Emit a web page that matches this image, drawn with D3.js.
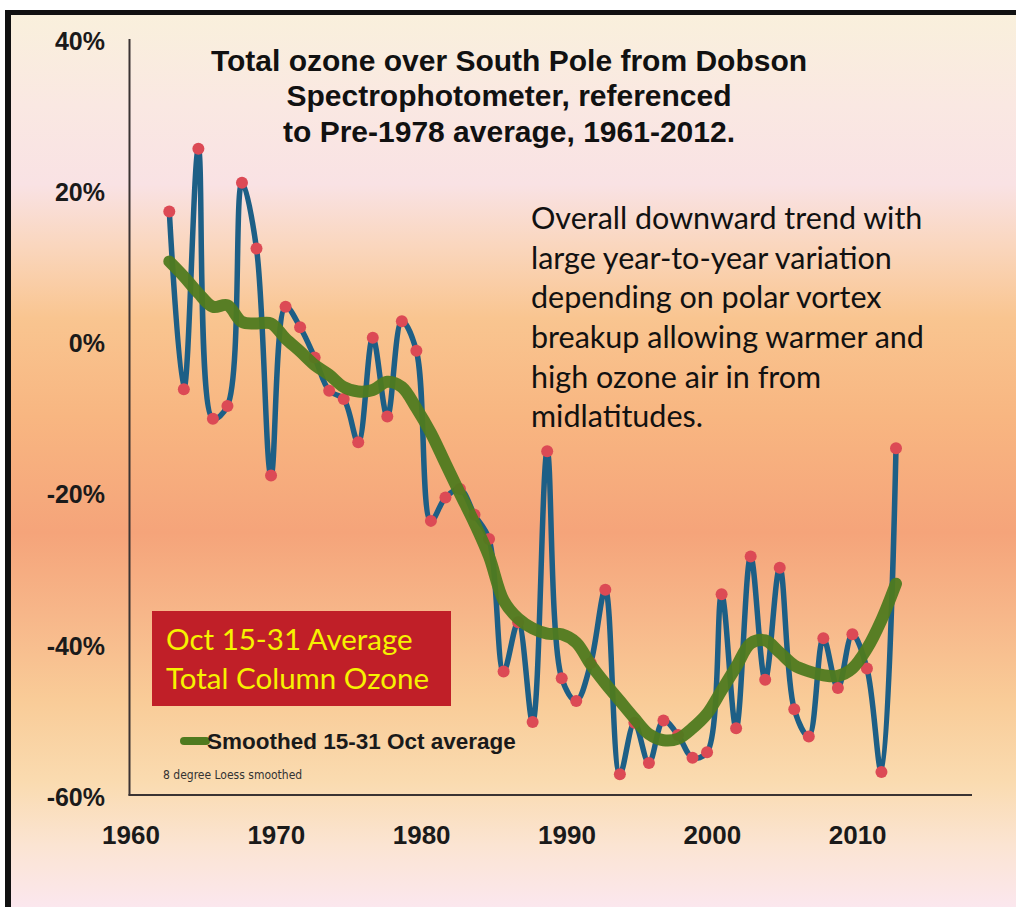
<!DOCTYPE html>
<html>
<head>
<meta charset="utf-8">
<script src="https://cdn.jsdelivr.net/npm/d3@7/dist/d3.min.js"></script>
<style>
  html, body { margin: 0; padding: 0; background: #fff; }
  svg { display: block; }
</style>
</head>
<body>
<svg id="chart" width="1016" height="907"></svg>
<script>
// Years of the October 15-31 record
const years = d3.range(1962, 2013);

// Total ozone anomaly (%) relative to the pre-1978 mean
const ozoneAnomaly = [
  17.4, -6.1, 25.7, -10.0, -8.3, 21.2, 12.5, -17.5, 4.8, 2.1,
  -1.9, -6.3, -7.4, -13.1, 0.7, -9.7, 2.9, -1.0, -23.5, -20.4,
  -19.3, -22.7, -25.9, -43.4, -36.9, -50.1, -14.3, -44.3, -47.3, -42.3,
  -32.6, -57.0, -50.2, -55.5, -49.9, -51.8, -54.8, -54.1, -33.2, -50.9,
  -28.2, -44.5, -29.7, -48.4, -52.0, -39.0, -45.6, -38.5, -43.0, -56.7,
  -13.9
];

// Loess-smoothed anomaly (%)
const smoothedAnomaly = [
  10.8, 8.8, 6.6, 4.8, 5.0, 2.8, 2.6, 2.6, 0.6, -1.1,
  -2.9, -4.2, -5.8, -6.4, -6.2, -5.1, -5.8, -8.6, -11.9, -15.9,
  -19.9, -23.8, -28.2, -34.0, -36.4, -37.7, -38.4, -38.5, -39.6, -42.5,
  -45.0, -47.3, -49.6, -51.7, -52.5, -52.3, -50.9, -49.0, -45.9, -42.8,
  -39.7, -39.3, -40.9, -42.6, -43.4, -43.9, -44.0, -43.0, -40.4, -36.6,
  -31.8
];

const yTicks = [40, 20, 0, -20, -40, -60];
const xTicks = [1960, 1970, 1980, 1990, 2000, 2010];

const titleLines = [
  "Total ozone over South Pole from Dobson",
  "Spectrophotometer, referenced",
  "to Pre-1978 average, 1961-2012."
];
const noteLines = [
  "Overall downward trend with",
  "large year-to-year variation",
  "depending on polar vortex",
  "breakup allowing warmer and",
  "high ozone air in from",
  "midlatitudes."
];
const boxLines = ["Oct 15-31 Average", "Total Column Ozone"];
const legendLabel = "Smoothed 15-31 Oct average";
const footNote = "8 degree Loess smoothed";

const svg = d3.select("#chart");
const W = 1016, H = 907;

// Slide background: warm vertical gradient
const defs = svg.append("defs");
const grad = defs.append("linearGradient")
  .attr("id", "bg").attr("x1", 0).attr("x2", 0).attr("y1", 0).attr("y2", 1);
[
  [0.00, "#f9f0dc"], [0.10, "#fae8e2"], [0.19, "#f9e2e4"], [0.26, "#fad6bd"],
  [0.34, "#f9c590"], [0.45, "#f8b681"], [0.58, "#f5a47a"], [0.67, "#f7b689"],
  [0.77, "#f9cc98"], [0.86, "#fadbb0"], [0.93, "#fbe4d2"], [1.00, "#fbe7ee"]
].forEach(([o, c]) => grad.append("stop").attr("offset", o).attr("stop-color", c));

svg.append("rect").attr("x", 0).attr("y", 0).attr("width", W).attr("height", H).attr("fill", "#fff");
svg.append("rect").attr("x", 10).attr("y", 15).attr("width", W - 10).attr("height", H - 15).attr("fill", "url(#bg)");
// frame edges
svg.append("rect").attr("x", 6).attr("y", 10).attr("width", W - 6).attr("height", 5).attr("fill", "#111");
svg.append("rect").attr("x", 5).attr("y", 10).attr("width", 6).attr("height", H - 10).attr("fill", "#111");

// Scales
const x = d3.scaleLinear().domain([1962.5, 2012.5]).range([169.3, 896]);
const y = d3.scaleLinear().domain([-60, 40]).range([797, 40.5]);
const xPos = yr => x(yr + 0.5);

// Axes
const axisColor = "#3a3333";
svg.append("line").attr("x1", 129.5).attr("x2", 129.5).attr("y1", 39).attr("y2", 795.5)
  .attr("stroke", axisColor).attr("stroke-width", 2);
svg.append("line").attr("x1", 128.5).attr("x2", 972).attr("y1", 795).attr("y2", 795)
  .attr("stroke", axisColor).attr("stroke-width", 2);

svg.append("g").selectAll("text").data(yTicks).join("text")
  .attr("x", 105).attr("y", d => y(d)).attr("dy", "0.36em")
  .attr("text-anchor", "end")
  .attr("font-family", "Liberation Sans, Arial, sans-serif")
  .attr("font-weight", "bold").attr("font-size", 25).attr("fill", "#1a1a1a")
  .text(d => d + "%");

svg.append("g").selectAll("text").data(xTicks).join("text")
  .attr("x", d => x(d) - 2).attr("y", 835).attr("dy", "0.36em")
  .attr("text-anchor", "middle")
  .attr("font-family", "Liberation Sans, Arial, sans-serif")
  .attr("font-weight", "bold").attr("font-size", 26).attr("fill", "#1a1a1a")
  .text(d => d);

// Title
svg.append("g").selectAll("text").data(titleLines).join("text")
  .attr("x", 509).attr("y", (d, i) => 60 + i * 35.5).attr("dy", "0.36em")
  .attr("text-anchor", "middle")
  .attr("font-family", "Liberation Sans, Arial, sans-serif")
  .attr("font-weight", "bold").attr("font-size", 30).attr("fill", "#111")
  .text(d => d);

// Annotation
svg.append("g").selectAll("text").data(noteLines).join("text")
  .attr("x", 531).attr("y", (d, i) => 218 + i * 39.7).attr("dy", "0.36em")
  .attr("font-family", "Lato, 'Open Sans', sans-serif")
  .attr("font-size", 30.5).attr("fill", "#111")
  .text(d => d);

// Data series
const pts = years.map((yr, i) => ({ yr, v: ozoneAnomaly[i], s: smoothedAnomaly[i] }));

const rawLine = d3.line().x(d => xPos(d.yr)).y(d => y(d.v)).curve(d3.curveCatmullRom.alpha(0.5));
const smoothLine = d3.line().x(d => xPos(d.yr)).y(d => y(d.s)).curve(d3.curveCatmullRom.alpha(0.5));

svg.append("path").datum(pts).attr("d", rawLine)
  .attr("fill", "none").attr("stroke", "#1d5f86").attr("stroke-width", 5.5)
  .attr("stroke-linejoin", "round");

svg.append("g").selectAll("circle").data(pts).join("circle")
  .attr("cx", d => xPos(d.yr)).attr("cy", d => y(d.v)).attr("r", 6)
  .attr("fill", "#dc4a55");

svg.append("path").datum(pts).attr("d", smoothLine)
  .attr("fill", "none").attr("stroke", "#4f7a1f").attr("stroke-width", 12)
  .attr("stroke-linejoin", "round").attr("stroke-linecap", "round")
  .attr("stroke-opacity", 0.95);

// Red label box
svg.append("rect").attr("x", 152).attr("y", 611).attr("width", 299).attr("height", 95)
  .attr("fill", "#c01f28");
svg.append("g").selectAll("text").data(boxLines).join("text")
  .attr("x", 166).attr("y", (d, i) => 639 + i * 39).attr("dy", "0.36em")
  .attr("font-family", "Lato, 'Open Sans', sans-serif")
  .attr("font-size", 29.5).attr("fill", "#f6f200")
  .text(d => d);

// Legend
svg.append("line").attr("x1", 184).attr("x2", 206).attr("y1", 741).attr("y2", 741)
  .attr("stroke", "#4f7a1f").attr("stroke-width", 8).attr("stroke-linecap", "round");
svg.append("text").attr("x", 207).attr("y", 741).attr("dy", "0.36em")
  .attr("font-family", "Liberation Sans, Arial, sans-serif")
  .attr("font-weight", "bold").attr("font-size", 22.5).attr("fill", "#1a1a1a")
  .text(legendLabel);
svg.append("text").attr("x", 163).attr("y", 775).attr("dy", "0.36em")
  .attr("font-family", "'Liberation Sans Narrow', 'DejaVu Sans Condensed', sans-serif")
  .attr("font-size", 12).attr("fill", "#333")
  .text(footNote);
</script>
</body>
</html>
